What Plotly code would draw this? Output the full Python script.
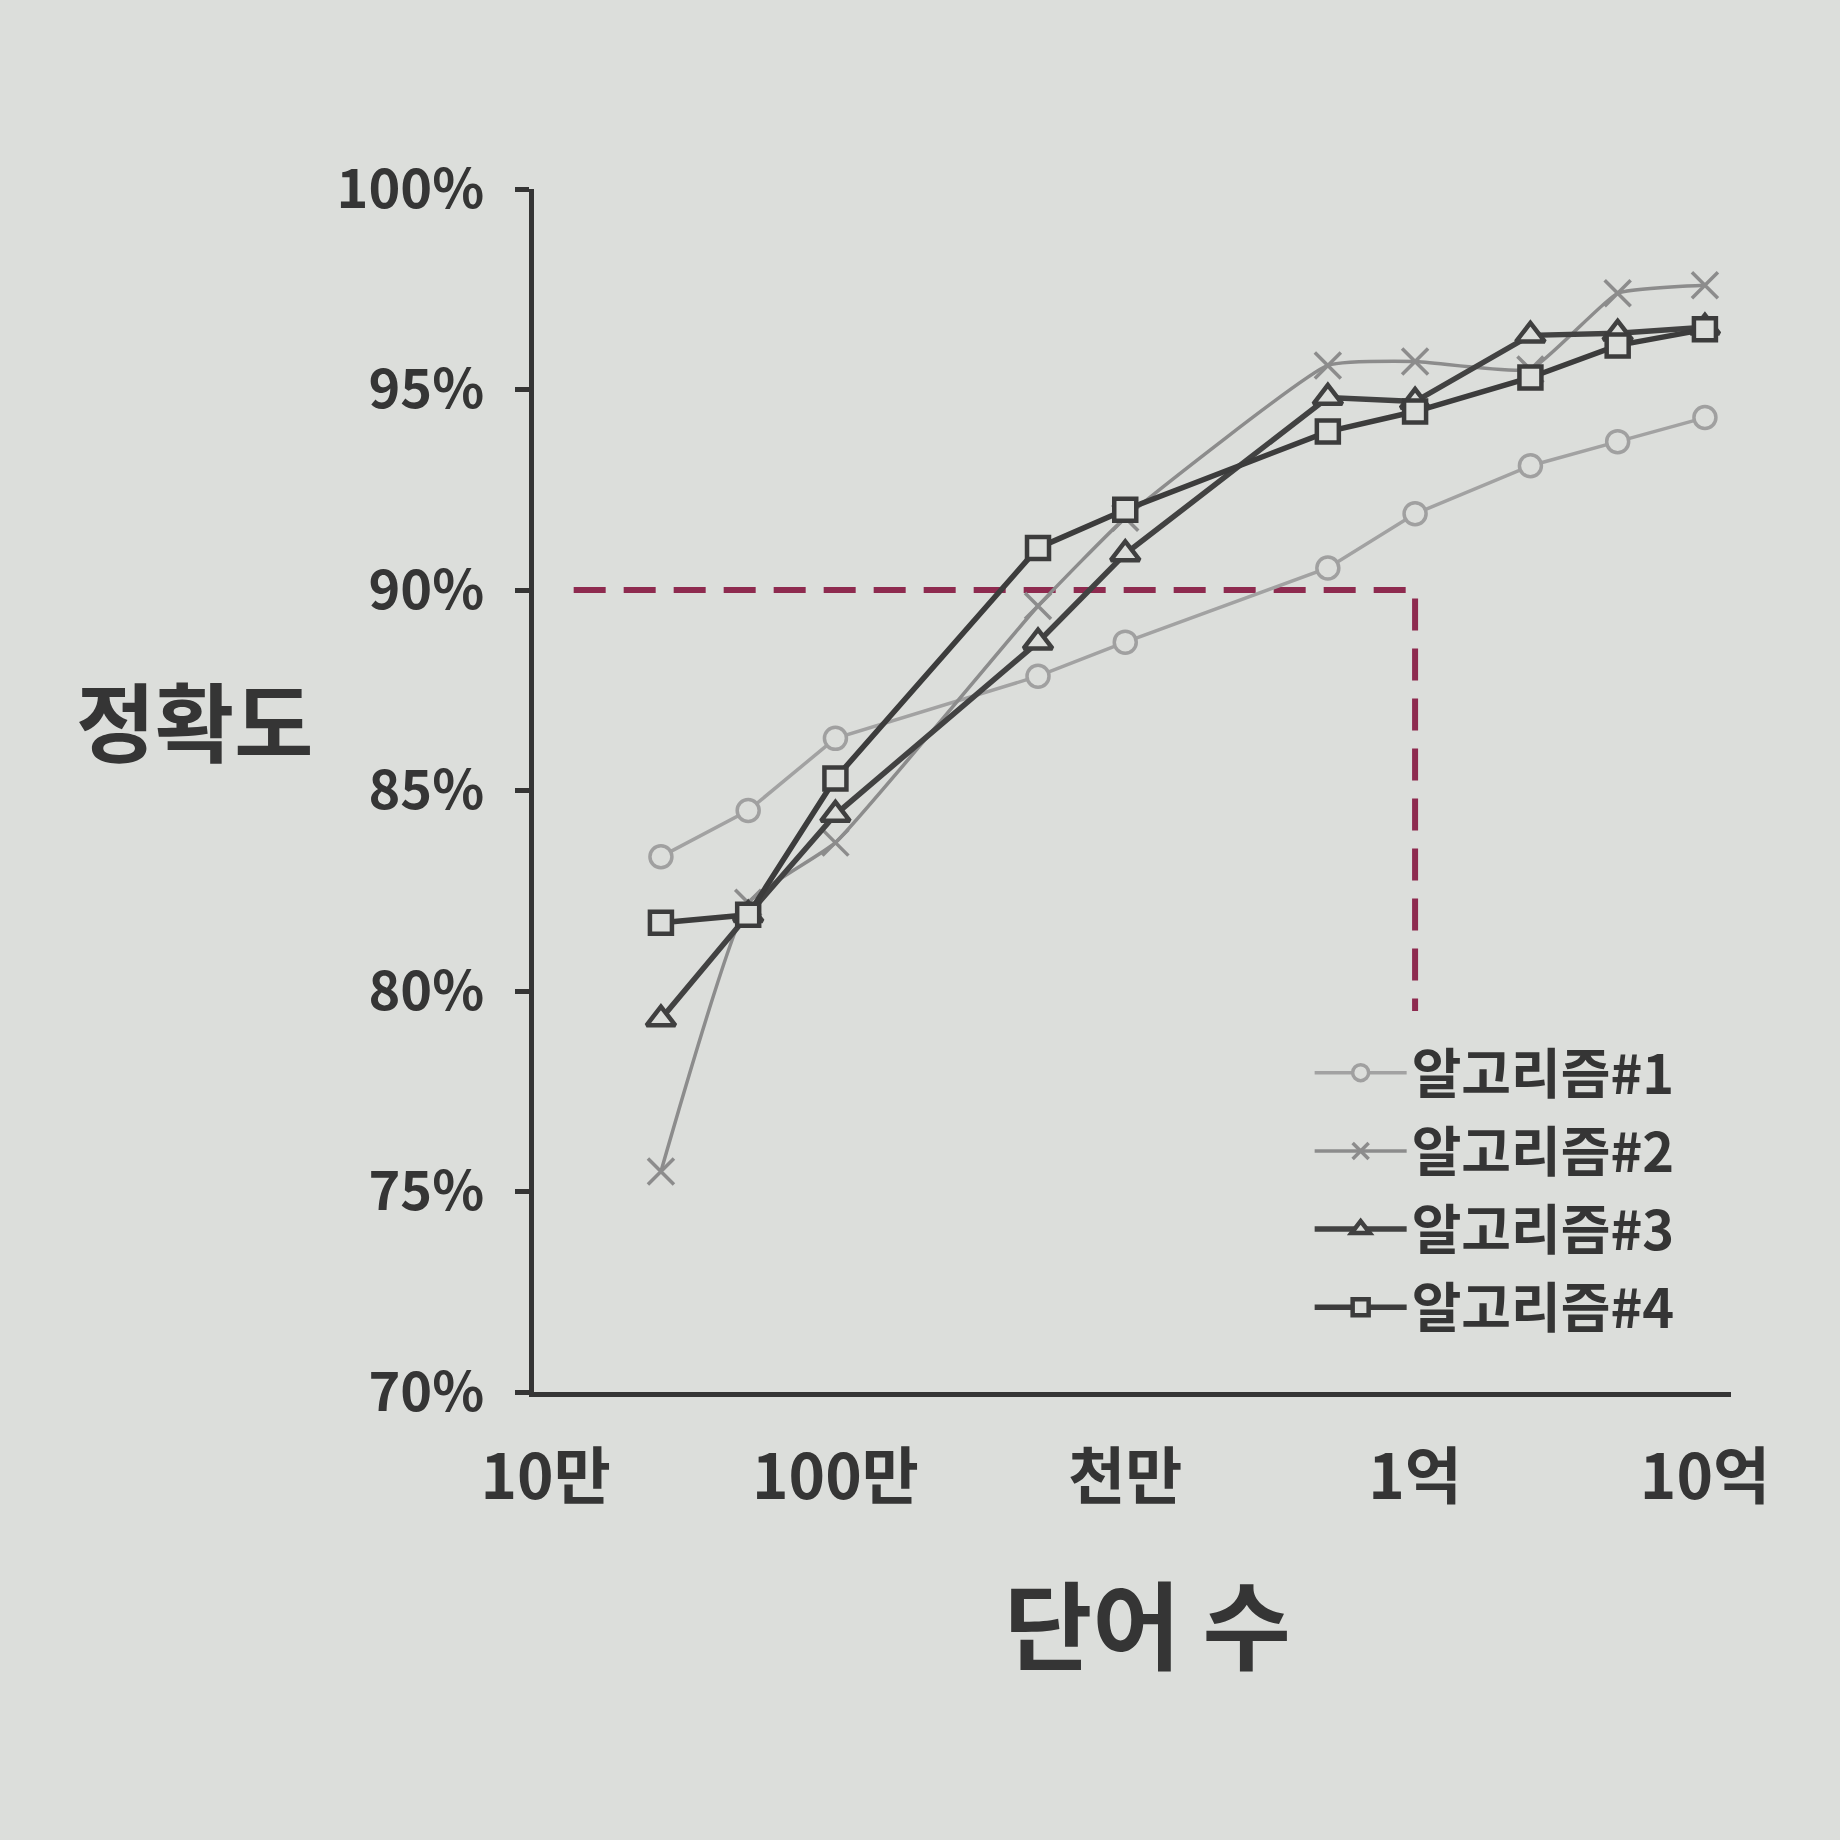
import plotly.graph_objects as go

# ---- data ----
WORDS = [2.5e5, 5e5, 1e6, 5e6, 1e7, 5e7, 1e8, 2.5e8, 5e8, 1e9]
ALG1 = [83.35, 84.5, 86.3, 87.85, 88.7, 90.55, 91.9, 93.1, 93.7, 94.3]
ALG2 = [75.5, 82.2, 83.7, 89.6, 91.8, 95.6, 95.7, 95.5, 97.4, 97.6]
ALG3 = [79.3, 81.9, 84.4, 88.7, 90.9, 94.8, 94.7, 96.35, 96.4, 96.55]
ALG4 = [81.7, 81.9, 85.3, 91.05, 92.0, 93.95, 94.45, 95.3, 96.1, 96.5]
NAMES = ["알고리즘#1", "알고리즘#2", "알고리즘#3", "알고리즘#4"]

REF_X = [1.25e5, 1e8, 1e8]
REF_Y = [90, 90, 79.5]

X_TICKS = [1e5, 1e6, 1e7, 1e8, 1e9]
X_TICKTEXT = ["10만", "100만", "천만", "1억", "10억"]
Y_TICKS = [70, 75, 80, 85, 90, 95, 100]
Y_TICKTEXT = [f"{v}%" for v in Y_TICKS]

BG = "#dcdedb"
INK = "#353535"
FONT = "Noto Sans CJK KR"

fig = go.Figure()

fig.add_trace(go.Scatter(
    x=REF_X, y=REF_Y, mode="lines", showlegend=False, hoverinfo="skip",
    line=dict(color="#8e2a4f", width=6, dash="32px,18px"),
))

styles = [
    dict(line=dict(color="#a2a2a2", width=3.5),
         marker=dict(symbol="circle", size=22, color=BG,
                     line=dict(color="#a0a0a0", width=3.5))),
    dict(line=dict(color="#8c8c8c", width=3.5, shape="spline", smoothing=0.4),
         marker=dict(symbol="x-thin", size=26, color="#8c8c8c",
                     line=dict(color="#8c8c8c", width=3.5))),
    dict(line=dict(color="#424242", width=5.5),
         marker=dict(symbol="triangle-up", size=25, color=BG,
                     line=dict(color="#404040", width=4.5))),
    dict(line=dict(color="#3c3c3c", width=5.5),
         marker=dict(symbol="square", size=22, color=BG,
                     line=dict(color="#3c3c3c", width=4.5))),
]

for i, (name, ys, st) in enumerate(zip(NAMES, [ALG1, ALG2, ALG3, ALG4], styles)):
    fig.add_trace(go.Scatter(x=WORDS, y=ys, name=name, mode="lines+markers",
                             legendgroup=f"g{i}", **st))

plot_l, plot_r, plot_t, plot_b = 534, 1731, 189, 1392
def px_to_paper(px, py):
    return (px - plot_l) / (plot_r - plot_l), (plot_b - py) / (plot_b - plot_t)

ax, ay = px_to_paper(194, 718)
bx, by = px_to_paper(1147, 1620)

fig.update_layout(
    width=1840, height=1840,
    paper_bgcolor=BG, plot_bgcolor=BG,
    margin=dict(l=534, r=109, t=189, b=448),
    font=dict(family=FONT, color=INK),
    legend=dict(x=0.648, y=0.30, xanchor="left", yanchor="top",
                bgcolor="rgba(0,0,0,0)", font=dict(size=54, family=FONT, color=INK, weight="bold"),
                itemwidth=92, tracegroupgap=5),
    annotations=[
        dict(text="정확도", x=ax, y=ay, xref="paper", yref="paper", showarrow=False,
             xanchor="center", yanchor="middle",
             font=dict(size=86, family=FONT, color=INK, weight="bold")),
        dict(text="단어 수", x=bx, y=by, xref="paper", yref="paper", showarrow=False,
             xanchor="center", yanchor="middle",
             font=dict(size=96, family=FONT, color=INK, weight="bold")),
    ],
)

fig.update_xaxes(
    type="log", range=[4.96, 9.09],
    tickvals=X_TICKS, ticktext=X_TICKTEXT, ticks="",
    showgrid=False, zeroline=False,
    showline=True, linecolor=INK, linewidth=5,
    tickfont=dict(size=62, family=FONT, color=INK, weight="bold"),
    ticklabelstandoff=28,
)
fig.update_yaxes(
    range=[70, 100], tickvals=Y_TICKS, ticktext=Y_TICKTEXT,
    ticks="outside", ticklen=14, tickwidth=5, tickcolor=INK,
    showgrid=False, zeroline=False,
    showline=True, linecolor=INK, linewidth=5,
    tickfont=dict(size=54, family=FONT, color=INK, weight="bold"),
    ticklabelstandoff=20,
)

fig.write_html(
    "out.html",
    config={"displayModeBar": False},
    post_script="document.body.style.margin='0';document.body.style.background='" + BG + "';",
)
